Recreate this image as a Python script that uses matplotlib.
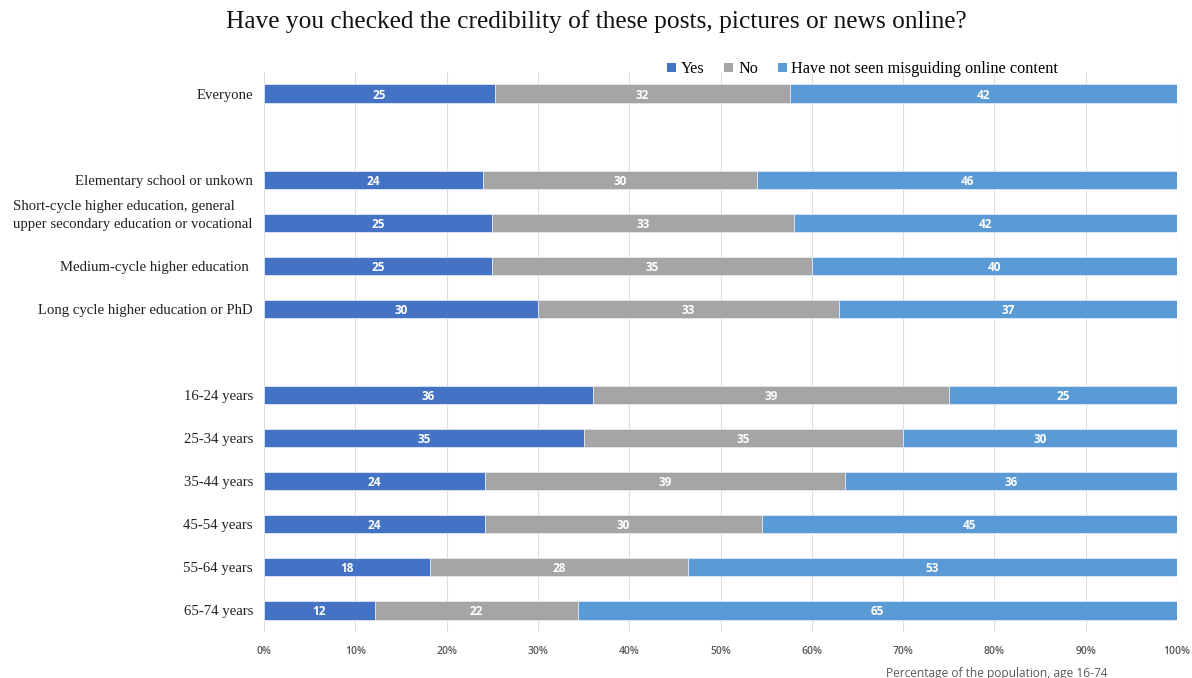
import numpy as np
import matplotlib
matplotlib.use('Agg')
import matplotlib.pyplot as plt
from matplotlib.patches import Patch
from matplotlib.ticker import PercentFormatter
from matplotlib.transforms import ScaledTranslation

# rows top to bottom; empty strings are spacer rows between groups
categories = [
    'Everyone',
    '',
    'Elementary school or unkown',
    'Short-cycle higher education, general\nupper secondary education or vocational',
    'Medium-cycle higher education ',
    'Long cycle higher education or PhD',
    '',
    '16-24 years',
    '25-34 years',
    '35-44 years',
    '45-54 years',
    '55-64 years',
    '65-74 years',
]
yes_vals  = [25, None, 24, 25, 25, 30, None, 36, 35, 24, 24, 18, 12]
no_vals   = [32, None, 30, 33, 35, 33, None, 39, 35, 39, 30, 28, 22]
seen_vals = [42, None, 46, 42, 40, 37, None, 25, 30, 36, 45, 53, 65]

series_names = ['Yes', 'No', 'Have not seen misguiding online content']
colors = ['#4472C4', '#A5A5A5', '#5B9BD5']

SERIF = 'Liberation Serif'
SANS = 'Open Sans'

fig = plt.figure(figsize=(11.92, 6.78), dpi=100)
ax = fig.add_axes([264/1192, 1 - 632/678, 913/1192, 560/678])

ypos = np.arange(len(categories))
series = [yes_vals, no_vals, seen_vals]
left = np.zeros(len(categories))
for vals, col in zip(series, colors):
    for i in range(len(categories)):
        if vals[i] is None:
            continue
        total = yes_vals[i] + no_vals[i] + seen_vals[i]
        w = vals[i] / total * 100
        ax.barh(ypos[i], w, left=left[i], height=0.42, color=col,
                edgecolor='#dfe8f5', linewidth=0.6, zorder=3)
        ax.text(left[i] + w / 2, ypos[i], f'{vals[i]}', ha='center', va='center_baseline',
                color='white', fontsize=8.5, fontweight='bold', family=SANS, zorder=4)
        left[i] += w

ax.set_xlim(0, 100)
ax.set_ylim(len(categories) - 0.5, -0.5)
ax.xaxis.set_major_locator(plt.MultipleLocator(10))
ax.xaxis.set_major_formatter(PercentFormatter(decimals=0))
ax.grid(axis='x', color='#DEDEDE', lw=0.8, zorder=0)
ax.set_axisbelow(True)
for s in ax.spines.values():
    s.set_visible(False)

ax.set_yticks(ypos)
ax.set_yticklabels(categories, family=SERIF, fontsize=10.6, color='#222222')
ax.tick_params(axis='y', length=0, pad=8)
ax.tick_params(axis='x', length=0, pad=10, labelsize=7.5, labelcolor='#595959')
for lab in ax.get_xticklabels():
    lab.set_family(SANS)
    lab.set_fontweight('semibold')

# the two-line label sits with its second line on the bar
for lab in ax.get_yticklabels():
    if '\n' in lab.get_text():
        lab.set_multialignment('left')
        lab.set_linespacing(1.45)
        lab.set_transform(lab.get_transform() + ScaledTranslation(0, 8/72, fig.dpi_scale_trans))

handles = [Patch(facecolor=c, edgecolor='none') for c in colors]
ax.legend(handles, series_names, loc='center', bbox_to_anchor=(0.656, 1.005),
          ncol=3, frameon=False, prop={'family': SERIF, 'size': 11.7},
          handlelength=0.55, handleheight=0.55, handletextpad=0.3, columnspacing=1.2)

fig.text(0.5, 1 - 22/678, 'Have you checked the credibility of these posts, pictures or news online?',
         ha='center', va='center', family=SERIF, fontsize=18.3, color='#111111')
fig.text(997/1192, 1 - 667/678, 'Percentage of the population, age 16-74', ha='center', va='top',
         family=SANS, fontsize=8.6, color='#595959')

fig.savefig('out.png', dpi=100)
